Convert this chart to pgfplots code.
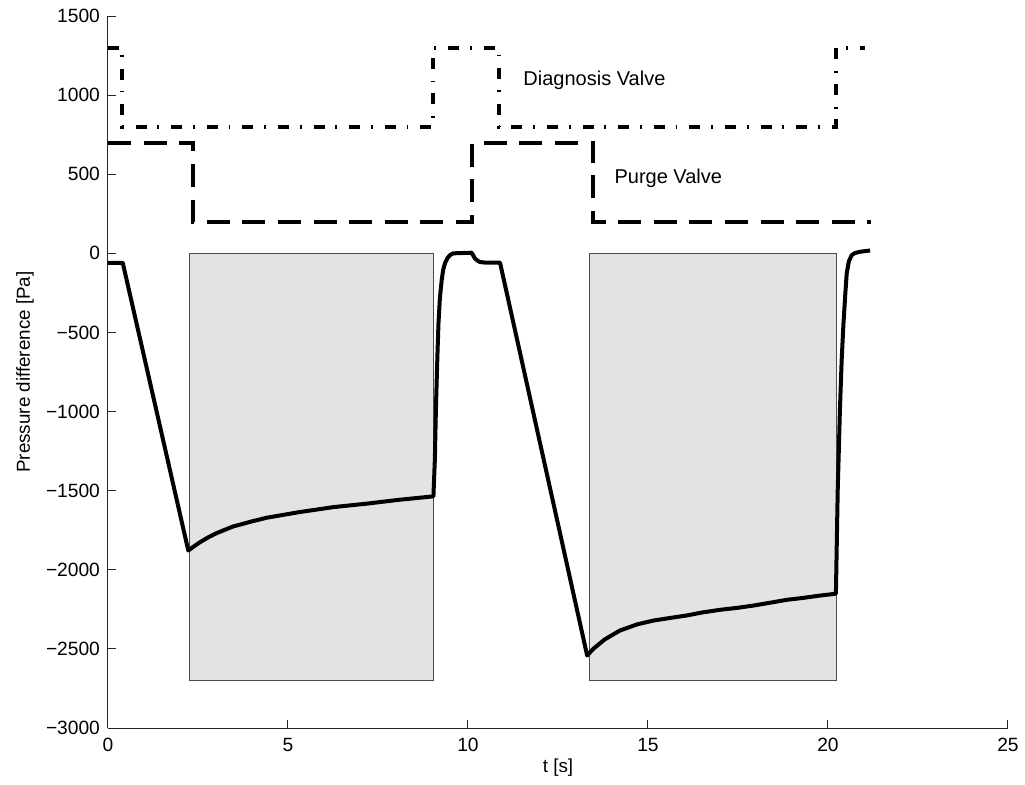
\documentclass[border=0pt]{standalone}
\usepackage{pgfplots}
\pgfplotsset{compat=1.18}
\usepackage{fontspec}
\setmainfont{Liberation Sans}
\definecolor{boxgray}{RGB}{227,227,227}
\begin{document}
\begin{tikzpicture}
\useasboundingbox (-54pt,-28pt) rectangle (458.5pt,364pt);
\begin{axis}[
  at={(0,0)}, anchor=south west,
  scale only axis, width=450pt, height=356pt,
  xmin=0, xmax=25, ymin=-3000, ymax=1500,
  axis lines=left, axis line style={-, line width=0.5pt, black!85},
  tick align=inside, major tick length=4pt,
  tick style={line width=0.5pt, black!85},
  xtick={0,5,10,15,20,25},
  ytick={-3000,-2500,-2000,-1500,-1000,-500,0,500,1000,1500},
  yticklabels={−3000,−2500,−2000,−1500,−1000,−500,0,500,1000,1500},
  /pgf/number format/assume math mode=true,
  tick label style={font=\fontsize{9.6}{11}\selectfont},
  xticklabel style={yshift=-1.5pt},
  yticklabel style={xshift=-0.5pt},
  label style={font=\fontsize{9.4}{11}\selectfont},
  xlabel={t [s]},
  xlabel style={at={(axis description cs:0.5,-0.0562)}, anchor=center},
  ylabel={Pressure difference [Pa]},
  ylabel style={at={(axis description cs:-0.0922,0.5)}, anchor=center},
  clip=false,
]
% shaded regions
\addplot[fill=boxgray, draw=black!70, line width=0.5pt] coordinates {(2.26,0) (9.04,0) (9.04,-2700) (2.26,-2700)} -- cycle;
\addplot[fill=boxgray, draw=black!70, line width=0.5pt] coordinates {(13.37,0) (20.24,0) (20.24,-2700) (13.37,-2700)} -- cycle;
% diagnosis valve
\addplot[black, line width=2pt, line join=miter, dash pattern=on 5.5pt off 5.4pt on 0.9pt off 6pt] coordinates {
(0,1300)(0.4,1300)(0.4,800)(9.04,800)(9.04,1300)(10.85,1300)(10.85,800)(20.21,800)(20.21,1300)(21.03,1300)};
% purge valve
\addplot[black, line width=2pt, line join=miter, dash pattern=on 11.5pt off 6.3pt] coordinates {
(0,700)(2.37,700)(2.37,200)(10.12,200)(10.12,700)(13.48,700)(13.48,200)(21.19,200)};
% pressure difference
\addplot[black, line width=2pt, line join=round] coordinates {
(0,-60)(0.41,-60)(2.23,-1878)(2.4,-1850)(2.56,-1825)(2.8,-1793)(3.02,-1768)(3.48,-1726)(4.0,-1694)(4.41,-1671)(5.33,-1635)(6.26,-1604)(7.19,-1582)(8.11,-1557)(9.04,-1536)
(9.08,-1300)(9.11,-971)(9.15,-650)(9.18,-443)(9.22,-280)(9.27,-169)(9.31,-105)(9.36,-63)(9.43,-30)(9.5,-11)(9.59,0)(10.1,4)(10.15,-15)(10.19,-32)(10.26,-45)(10.33,-55)(10.5,-59)(10.89,-59)
(13.31,-2542)(13.48,-2500)(13.8,-2440)(14.22,-2384)(14.7,-2345)(15.15,-2321)(15.6,-2305)(16.07,-2289)(16.5,-2270)(17.0,-2253)(17.5,-2240)(17.93,-2226)(18.4,-2208)(18.85,-2190)(19.3,-2178)(19.78,-2163)(20.19,-2152)
(20.22,-2150)(20.27,-1500)(20.33,-1000)(20.38,-675)(20.43,-443)(20.48,-260)(20.52,-127)(20.58,-50)(20.66,-11)(20.75,2)(20.89,10)(21.17,18)};
\node[anchor=west, inner sep=0pt, font=\fontsize{10}{11}\selectfont] at (axis cs:11.53,1092) {Diagnosis Valve};
\node[anchor=west, inner sep=0pt, font=\fontsize{10}{11}\selectfont] at (axis cs:14.06,475) {Purge Valve};
\end{axis}
\end{tikzpicture}
\end{document}
